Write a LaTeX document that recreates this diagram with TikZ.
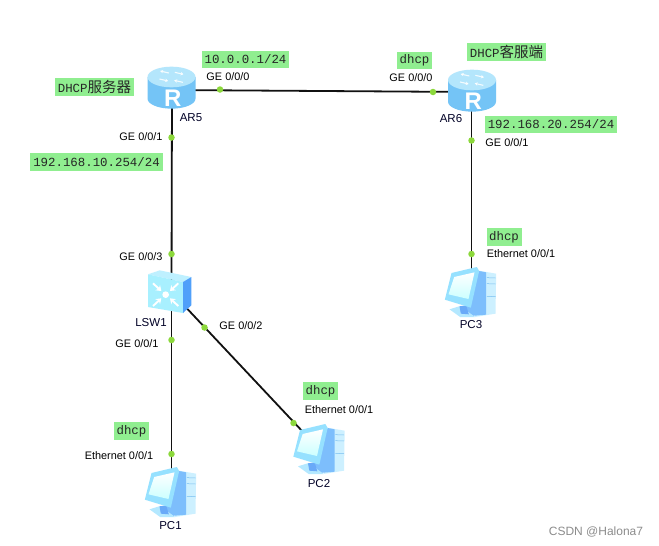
\documentclass[tikz,border=0pt]{standalone}
\usepackage{fontspec}
\setmainfont{Liberation Sans}
\newfontfamily\monofnt{Liberation Mono}
\newfontfamily\cjkfnt{Noto Sans CJK SC}
\usetikzlibrary{arrows.meta}
\definecolor{lab}{HTML}{90EE90}
\definecolor{dotc}{HTML}{8CD83C}
\definecolor{lnk}{HTML}{111111}
\definecolor{rtop}{HTML}{B4E6FC}
\definecolor{rside}{HTML}{74C4F6}
\definecolor{rmid}{HTML}{C4EEFE}
\definecolor{swface}{HTML}{A8F0FF}
\tikzset{
  anchorpt/.style={inner sep=0pt,minimum size=2pt},
  link/.style={draw=lnk,line width=1.8pt},
  portdot/.style={circle,fill=dotc,inner sep=0pt,minimum size=6.5pt},
  iflabel/.style={inner sep=0pt,text=black,font=\fontsize{10.9}{12}\selectfont},
  devlabel/.style={inner sep=0pt,text=black!85!blue,font=\fontsize{11.5}{13}\selectfont},
  note/.style={fill=lab,inner sep=0pt,minimum height=17.5pt,text=black!85,font=\monofnt\fontsize{12.4}{14}\selectfont},
  cjknote/.style={note},
  wht/.style={draw=white,line width=1.1pt,-{Stealth[length=3pt,width=3.5pt]},opacity=.85},
  pics/router/.style={code={
    \begin{scope}[scale=1/3]
      \path[left color=rside,middle color=rmid,right color=rside]
        (-72,-30) -- (-72,35) arc[start angle=180,end angle=0,x radius=72,y radius=30] -- (72,-30) -- cycle;
      \fill[rtop] (0,-30) ellipse[x radius=72,y radius=31];
      \draw[wht] (-8,-42) -- (-34,-48);
      \draw[wht] (10,-44) -- (36,-38);
      \draw[wht] (-36,-24) -- (-10,-18);
      \draw[wht] (34,-14) -- (8,-20);
      \node[inner sep=0pt,text=white,font=\bfseries\fontsize{24}{25}\selectfont] (letter) at (4,33) {R};
    \end{scope}}},
  pics/switchicon/.style={code={
    \begin{scope}[scale=1/3]
      \fill[color={rgb,255:red,190;green,240;blue,255}] (-60,-53) -- (-25,-65) -- (70,-45) -- (45,-30) -- cycle;
      \fill[swface] (-60,-53) -- (45,-30) -- (45,63) -- (-60,45) -- cycle;
      \fill[color={rgb,255:red,80;green,160;blue,250}] (45,-30) -- (70,-45) -- (70,40) -- (45,63) -- cycle;
      \foreach \x/\y in {-1/-1,1/-1,-1/1,1/1}{
        \draw[white,line width=1.9pt,-{Stealth[length=5pt,width=7pt]}] (\x*38-7,\y*34+8) -- (\x*13-7,\y*11+8);
      }
      \fill[white] (-7,8) circle[radius=10];
    \end{scope}}},
  pics/pcicon/.style={code={
    \begin{scope}[scale=1/3,shift={(-121,-215)}]
      \fill[color={rgb,255:red,205;green,240;blue,255}] (140,150) -- (198,160) -- (196,280) -- (135,290) -- cycle;
      \fill[color={rgb,255:red,125;green,190;blue,252}] (147,152) -- (168,156) -- (168,283) -- (122,287) -- (105,262) -- cycle;
      \foreach \y in {172,190,228}{\draw[color={rgb,255:red,120;green,190;blue,240},line width=.5pt] (170,\y) -- (196,\y+1);}
      \fill[color={rgb,255:red,180;green,232;blue,255}] (58,267) -- (90,257) -- (135,290) -- (90,290) -- cycle;
      \fill[color={rgb,255:red,105;green,170;blue,248}] (88,258) -- (108,255) -- (116,282) -- (92,280) -- cycle;
      \fill[color={rgb,255:red,150;green,225;blue,255}] (64,158) -- (140,140) -- (147,152) -- (122,262) -- (44,238) -- cycle;
      \path[top color=white,bottom color=cyan!20] (72,170) -- (133,156) -- (115,236) -- (55,222) -- cycle;
    \end{scope}}}
}
\begin{document}
\begin{tikzpicture}[x=1pt,y=-1pt]
\useasboundingbox[fill=white] (0,0) rectangle (659,546);
% anchors of the devices
\node[anchorpt] (ar5) at (172,90) {};
\node[anchorpt] (ar6) at (471.5,92) {};
\node[anchorpt] (lsw1) at (171.5,292) {};
\node[anchorpt] (pc1) at (171.5,492) {};
\node[anchorpt] (pc2) at (319,449) {};
\node[anchorpt] (pc3) at (471.5,292) {};
% connectors
\draw[link] (ar5) -- (ar6);
\draw[link] (ar5) -- (lsw1);
\draw[link] (lsw1) -- (pc1);
\draw[link] (lsw1) -- (pc2);
\draw[link] (ar6) -- (pc3);
% port dots
\node[portdot] (d1) at (220,89.5) {};
\node[portdot] (d2) at (433,92) {};
\node[portdot] (d3) at (171.5,137.5) {};
\node[portdot] (d4) at (171.5,254) {};
\node[portdot] (d5) at (171.5,340) {};
\node[portdot] (d6) at (204.5,327.5) {};
\node[portdot] (d7) at (171.5,454) {};
\node[portdot] (d8) at (293.5,423) {};
\node[portdot] (d9) at (471.5,140.5) {};
\node[portdot] (d10) at (471.5,254) {};
% device icons
\pic (iconar5) at (171.5,87) {router};
\pic (iconar6) at (472,90) {router};
\pic (iconlsw) at (168,292) {switchicon};
\pic (iconpc1) at (170.5,492) {pcicon};
\pic (iconpc2) at (319,449) {pcicon};
\pic (iconpc3) at (470.5,292) {pcicon};
% device names
\node[devlabel] (n1) at (191,118) {AR5};
\node[devlabel] (n2) at (451,119) {AR6};
\node[devlabel] (n3) at (151,323) {LSW1};
\node[devlabel] (n4) at (170.5,526) {PC1};
\node[devlabel] (n5) at (319,484) {PC2};
\node[devlabel] (n6) at (471,325) {PC3};
% interface names
\node[iflabel] (i1) at (228,77) {GE 0/0/0};
\node[iflabel] (i2) at (141,137) {GE 0/0/1};
\node[iflabel] (i3) at (411,78) {GE 0/0/0};
\node[iflabel] (i4) at (507,143) {GE 0/0/1};
\node[iflabel] (i5) at (141,257) {GE 0/0/3};
\node[iflabel] (i6) at (137,344) {GE 0/0/1};
\node[iflabel] (i7) at (241,326) {GE 0/0/2};
\node[iflabel] (i8) at (119,456) {Ethernet 0/0/1};
\node[iflabel] (i9) at (339,410) {Ethernet 0/0/1};
\node[iflabel] (i10) at (521,254) {Ethernet 0/0/1};
% green notes
\node[note,minimum width=87pt] (a1) at (245.5,59.5) {10.0.0.1/24};
\node[note,minimum width=133pt] (a2) at (96.5,162) {192.168.10.254/24};
\node[note,minimum width=132pt] (a3) at (551,124.5) {192.168.20.254/24};
\node[cjknote,minimum width=79pt] (a4) at (94.5,87) {DHCP{\cjkfnt\fontsize{14.5}{16}\selectfont 服务器}};
\node[cjknote,minimum width=79pt] (a5) at (506.5,52) {DHCP{\cjkfnt\fontsize{14.5}{16}\selectfont 客服端}};
\node[note,minimum width=35pt] (a6) at (414.5,60.5) {dhcp};
\node[note,minimum width=35pt] (a7) at (504,237) {dhcp};
\node[note,minimum width=35pt] (a8) at (320.5,391) {dhcp};
\node[note,minimum width=35pt] (a9) at (131.5,431) {dhcp};
% watermark
\node[inner sep=0pt,text=black!45,font=\fontsize{12}{14}\selectfont] (wm) at (596,532) {CSDN @Halona7};
\end{tikzpicture}
\end{document}
